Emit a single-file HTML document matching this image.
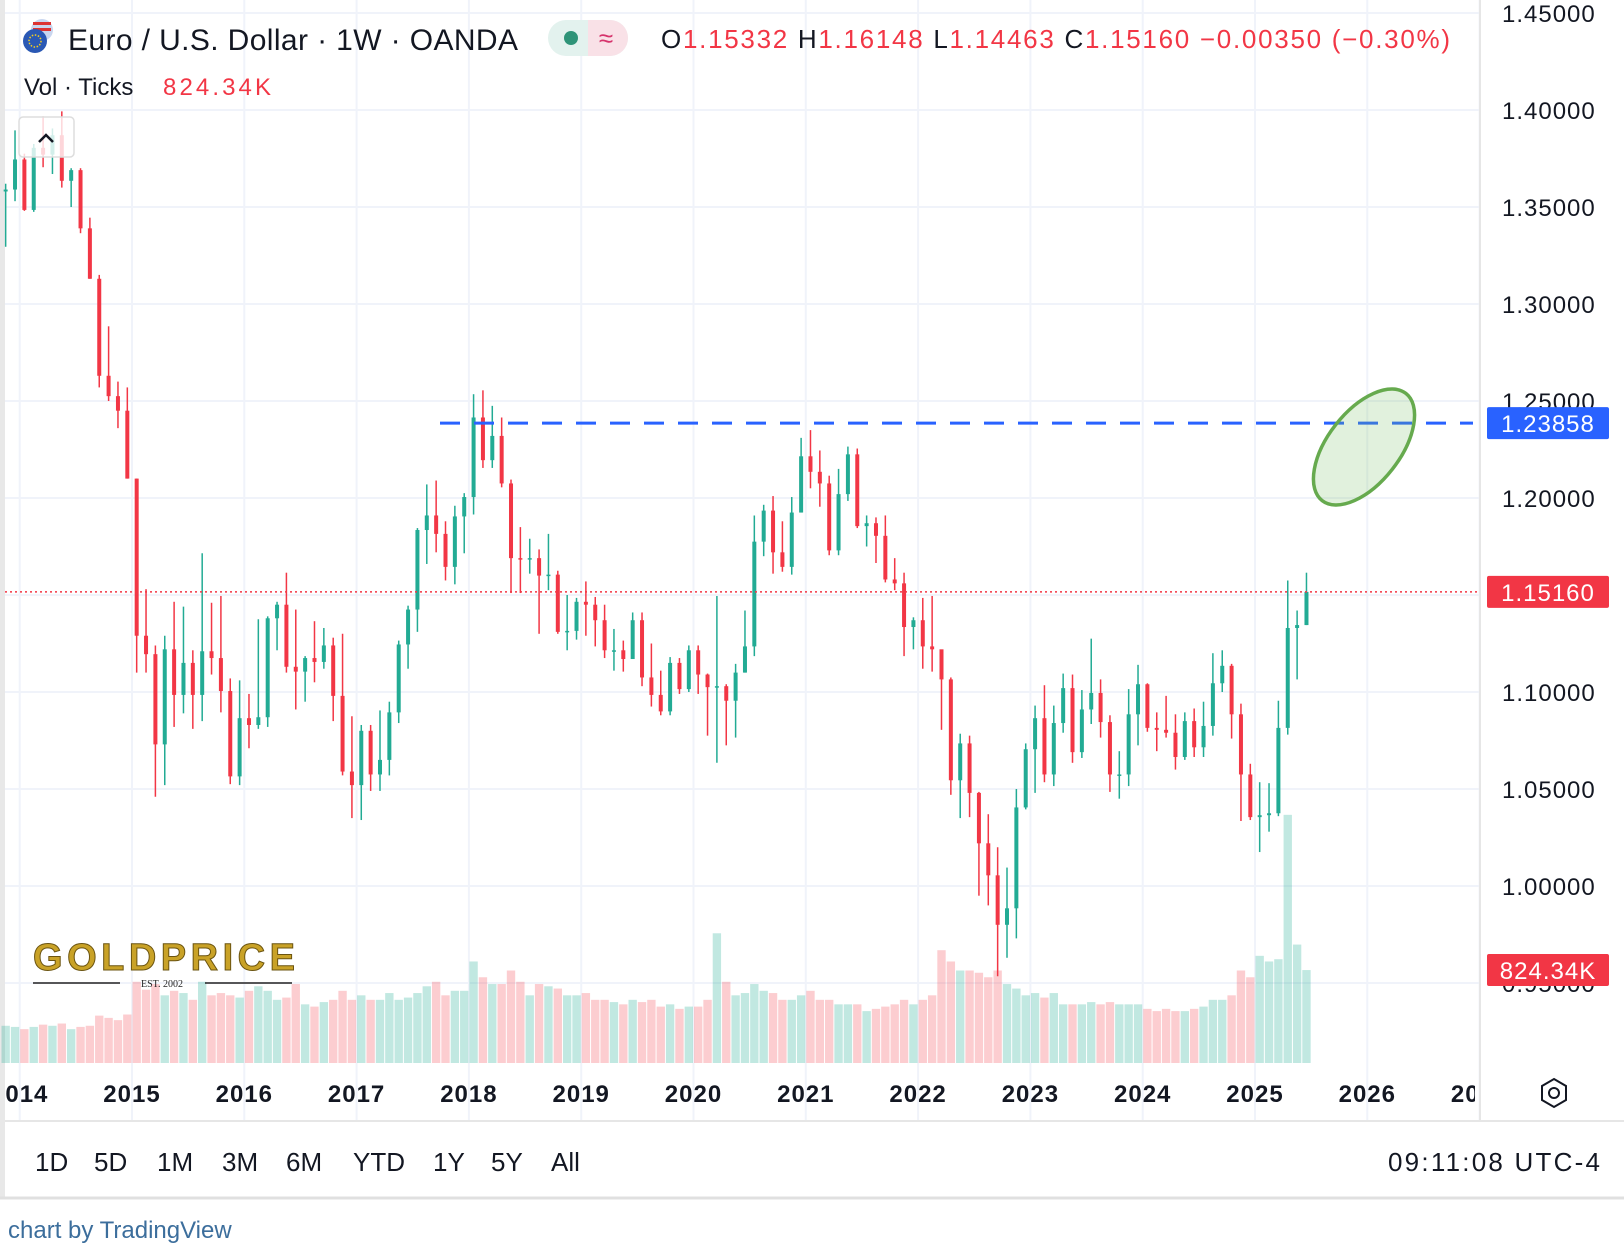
<!DOCTYPE html>
<html><head><meta charset="utf-8"><style>
html,body{margin:0;padding:0;background:#fff;width:1624px;height:1256px;overflow:hidden;font-family:"Liberation Sans",Arial,sans-serif}
</style></head><body>
<svg id="chart" width="1624" height="1256" viewBox="0 0 1624 1256" xmlns="http://www.w3.org/2000/svg" style="font-family:'Liberation Sans',Arial,sans-serif">
<rect x="0" y="0" width="1624" height="1256" fill="#fff"/>
<rect x="0" y="0" width="5" height="1198" fill="#e8e8e8"/>
<g id="grid"></g>
<g id="vol"></g>
<g id="candles"></g>
<line x1="1480" y1="0" x2="1480" y2="1121" stroke="#e6e6e6" stroke-width="2"/>
<line x1="5" y1="1121" x2="1624" y2="1121" stroke="#e6e6e6" stroke-width="2"/>
<line x1="0" y1="1198" x2="1624" y2="1198" stroke="#e0e0e0" stroke-width="3"/>
<g id="yaxis" font-size="24" fill="#131722" letter-spacing="1"></g>
<g id="xaxis" font-size="24" font-weight="bold" fill="#131722" letter-spacing="1"></g>
<line id="resline" stroke="#2962ff" stroke-width="3" stroke-dasharray="20,14"/>
<line id="lastline" stroke="#f23645" stroke-width="1.5" stroke-dasharray="2,3"/>
<ellipse cx="1364" cy="447" rx="68" ry="36" transform="rotate(-52 1364 447)" fill="rgba(120,190,100,0.22)" stroke="#66aa4e" stroke-width="3.5"/>
<g><rect id="reslab" x="1487" width="122" height="32" rx="2" fill="#2962ff"/><text id="restxt" x="1548" font-size="24" fill="#fff" text-anchor="middle" letter-spacing="1">1.23858</text></g>
<g><rect id="lastlab" x="1487" width="122" height="32" rx="2" fill="#f23645"/><text id="lasttxt" x="1548" font-size="24" fill="#fff" text-anchor="middle" letter-spacing="1">1.15160</text></g>
<g><rect x="1487" y="954" width="122" height="32" rx="2" fill="#f23645"/><text x="1548" y="979" font-size="24" fill="#fff" text-anchor="middle" letter-spacing="1">824.34K</text></g>
<g>
<circle cx="42" cy="30" r="11" fill="#c9d6ef"/><rect x="33" y="22" width="18" height="3" fill="#d33"/><rect x="33" y="28" width="18" height="3" fill="#d33"/>
<circle cx="35" cy="41" r="12" fill="#2a58b4"/><circle cx="35" cy="41" r="6" fill="none" stroke="#f5d020" stroke-width="1.5" stroke-dasharray="1.5,1.6"/>
</g>
<text x="68" y="50" font-size="30" fill="#131722" textLength="450">Euro / U.S. Dollar · 1W · OANDA</text>
<g><rect x="548" y="20" width="80" height="36" rx="18" fill="#e3f2ee"/><path d="M588 20 H610 A18 18 0 0 1 610 56 H588 Z" fill="#f9e1e7"/><circle cx="571" cy="38" r="7" fill="#2e9478"/><text x="606" y="47" font-size="26" fill="#d6336c" text-anchor="middle">≈</text></g>
<text x="661" y="48" font-size="26" fill="#f23645" textLength="789"><tspan fill="#131722">O</tspan>1.15332 <tspan fill="#131722">H</tspan>1.16148 <tspan fill="#131722">L</tspan>1.14463 <tspan fill="#131722">C</tspan>1.15160 −0.00350 (−0.30%)</text>
<text x="24" y="95" font-size="24" fill="#131722">Vol · Ticks<tspan fill="#f23645" x="163" textLength="108">824.34K</tspan></text>
<g><rect x="19" y="117" width="55" height="40" rx="4" fill="rgba(255,255,255,0.8)" stroke="#ddd" stroke-width="1.5"/><path d="M39 142 L46 135 L53 142" fill="none" stroke="#131722" stroke-width="2.5"/></g>
<g>
<text x="33" y="970" font-size="38" font-weight="bold" fill="#c9a227" stroke="#6b5410" stroke-width="1" textLength="262" font-family="'Liberation Sans',sans-serif">GOLDPRICE</text>
<line x1="33" y1="983" x2="120" y2="983" stroke="#222" stroke-width="1.5"/><line x1="205" y1="983" x2="292" y2="983" stroke="#222" stroke-width="1.5"/>
<text x="162" y="987" font-size="10" fill="#222" text-anchor="middle" font-family="'Liberation Serif',serif">EST. 2002</text>
</g>
<g><polygon points="1554,1079 1566,1086 1566,1100 1554,1107 1542,1100 1542,1086" fill="none" stroke="#131722" stroke-width="2"/><circle cx="1554" cy="1093" r="5" fill="none" stroke="#131722" stroke-width="2"/></g>
<g font-size="26" fill="#131722">
<text x="35" y="1171">1D</text>
<text x="94" y="1171">5D</text>
<text x="157" y="1171">1M</text>
<text x="222" y="1171">3M</text>
<text x="286" y="1171">6M</text>
<text x="353" y="1171">YTD</text>
<text x="433" y="1171">1Y</text>
<text x="491" y="1171">5Y</text>
<text x="551" y="1171">All</text>
<text x="1600" y="1171" text-anchor="end" textLength="212">09:11:08 UTC-4</text>
</g>
<text x="8" y="1238" font-size="24" fill="#3c6e9c">chart by TradingView</text>
</svg>
<script>
const startYear = 2013, startMonth = 10; // Nov 2013
const firstOpen = 1.3580;
const closes = [1.3590,1.3745,
1.3485,1.3805,1.3770,1.3870,1.3635,1.3690,1.3390,1.3130,1.2630,1.2525,1.2450,1.2100,
1.1290,1.1195,1.0730,1.1220,1.0985,1.1150,1.0985,1.1210,1.1175,1.1005,1.0565,1.0865,
1.0830,1.0870,1.1380,1.1450,1.1130,1.1105,1.1175,1.1155,1.1240,1.0980,1.0590,1.0520,
1.0800,1.0575,1.0650,1.0895,1.1245,1.1425,1.1835,1.1910,1.1815,1.1645,1.1905,1.2005,
1.2415,1.2195,1.2320,1.2075,1.1690,1.1685,1.1690,1.1600,1.1605,1.1310,1.1315,1.1465,
1.1450,1.1370,1.1215,1.1215,1.1170,1.1370,1.1075,1.0985,1.0900,1.1150,1.1015,1.1215,
1.1090,1.1025,1.1030,1.0955,1.1100,1.1235,1.1775,1.1935,1.1720,1.1645,1.1925,1.2215,
1.2135,1.2075,1.1730,1.2020,1.2225,1.1855,1.1870,1.1805,1.1580,1.1560,1.1335,1.1370,
1.1235,1.1220,1.1065,1.0545,1.0735,1.0480,1.0220,1.0055,0.9800,0.9885,1.0405,1.0705,
1.0865,1.0575,1.0840,1.1020,1.0690,1.0910,1.0995,1.0845,1.0575,1.0575,1.0885,1.1040,
1.0815,1.0805,1.0790,1.0665,1.0850,1.0715,1.0825,1.1045,1.1135,1.0885,1.0575,1.0355,
1.0365,1.0375,1.0815,1.1330,1.1345,1.1516];
const highs = [1.3620,1.3895,
1.3775,1.3825,1.3967,1.3905,1.3993,1.3700,1.3700,1.3445,1.3150,1.2885,1.2600,1.2570,
1.2100,1.1530,1.1240,1.1290,1.1465,1.1440,1.1215,1.1715,1.1460,1.1495,1.1070,1.1060,
1.0990,1.1375,1.1390,1.1465,1.1615,1.1425,1.1185,1.1365,1.1330,1.1280,1.1300,1.0875,
1.0830,1.0830,1.0905,1.0950,1.1265,1.1445,1.1845,1.2070,1.2090,1.1880,1.1960,1.2025,
1.2535,1.2555,1.2475,1.2415,1.2095,1.1850,1.1790,1.1735,1.1815,1.1625,1.1500,1.1485,
1.1570,1.1490,1.1450,1.1325,1.1265,1.1410,1.1410,1.1250,1.1110,1.1180,1.1175,1.1240,
1.1240,1.1095,1.1495,1.1040,1.1145,1.1420,1.1910,1.1965,1.2010,1.1880,1.2005,1.2310,
1.2350,1.2245,1.2115,1.2150,1.2265,1.2255,1.1910,1.1900,1.1910,1.1690,1.1615,1.1385,
1.1485,1.1495,1.1185,1.1075,1.0785,1.0775,1.0485,1.0370,1.0200,1.0095,1.0500,1.0735,
1.0930,1.1035,1.0930,1.1095,1.1090,1.1010,1.1275,1.1065,1.0880,1.0695,1.1015,1.1140,
1.1045,1.0895,1.0980,1.0885,1.0895,1.0915,1.0950,1.1200,1.1215,1.1145,1.0940,1.0630,
1.0535,1.0530,1.0955,1.1575,1.1420,1.1615];
const lows = [1.3295,1.3530,
1.3480,1.3475,1.3705,1.3670,1.3600,1.3500,1.3365,1.3130,1.2570,1.2500,1.2360,1.2100,
1.1100,1.1100,1.0460,1.0520,1.0820,1.0890,1.0810,1.0850,1.1090,1.0895,1.0525,1.0520,
1.0710,1.0810,1.0820,1.1215,1.1100,1.0910,1.0950,1.1050,1.1120,1.0850,1.0570,1.0350,
1.0340,1.0490,1.0490,1.0570,1.0840,1.1120,1.1310,1.1660,1.1720,1.1575,1.1555,1.1715,
1.1915,1.2155,1.2155,1.2055,1.1510,1.1510,1.1610,1.1300,1.1525,1.1300,1.1215,1.1270,
1.1290,1.1235,1.1175,1.1110,1.1105,1.1180,1.1030,1.0925,1.0880,1.0880,1.0990,1.1000,
1.0990,1.0775,1.0635,1.0725,1.0765,1.1100,1.1185,1.1700,1.1610,1.1620,1.1605,1.1925,
1.2050,1.1955,1.1705,1.1705,1.1985,1.1845,1.1750,1.1665,1.1565,1.1525,1.1185,1.1220,
1.1120,1.1105,1.0805,1.0470,1.0350,1.0355,0.9950,0.9900,0.9535,0.9630,0.9730,1.0395,
1.0480,1.0535,1.0515,1.0790,1.0635,1.0660,1.0835,1.0765,1.0485,1.0450,1.0515,1.0725,
1.0795,1.0695,1.0765,1.0600,1.0650,1.0665,1.0665,1.0775,1.1000,1.0760,1.0335,1.0340,
1.0175,1.0280,1.0360,1.0780,1.1065,1.1345];
const volumesK = [330,320,
300,320,340,330,350,300,320,330,420,400,380,430,
720,650,700,600,640,620,560,720,600,620,600,580,
640,680,640,560,580,700,520,500,540,560,640,560,
600,560,560,620,560,580,620,680,720,600,640,640,
900,760,700,700,820,720,600,700,680,660,600,600,
620,560,560,540,520,560,540,560,500,520,480,500,
500,560,1150,720,600,620,700,640,620,560,560,600,
640,560,560,520,520,520,460,480,500,520,560,520,
560,600,1000,900,820,820,800,760,820,700,660,600,
620,580,620,520,520,520,540,520,540,520,520,520,
480,460,480,460,460,480,500,560,560,600,820,760,
950,900,920,2200,1050,824];
const priceTicks = [1.45,1.40,1.35,1.30,1.25,1.20,1.15,1.10,1.05,1.00,0.95];
const priceTickLabels = ["1.45000","1.40000","1.35000","1.30000","1.25000","1.20000","1.15000","1.10000","1.05000","1.00000","0.95000"];
const yearTicks = [2014,2015,2016,2017,2018,2019,2020,2021,2022,2023,2024,2025,2026,2027];
const resistancePrice = 1.23858;
const lastPrice = 1.15160;

const NS = "http://www.w3.org/2000/svg";
function yP(p){ return 110 + (1.40 - p) * 1940; }
function xT(t){ return 132 + (t - 2015) * 112.3; }
function yV(v){ return 1063 - v * 0.1128; }
function mk(tag, attrs, parent){ const e=document.createElementNS(NS,tag); for(const k in attrs) e.setAttribute(k,attrs[k]); parent.appendChild(e); return e; }

const grid=document.getElementById('grid'), yaxis=document.getElementById('yaxis'), xaxis=document.getElementById('xaxis');
const vol=document.getElementById('vol'), cg=document.getElementById('candles');

priceTicks.forEach((p,i)=>{
  const l=mk('line',{x1:5,x2:1480,y1:yP(p),y2:yP(p),stroke:'#f0f3fa','stroke-width':2},grid);
  
  
  const t=mk('text',{x:1502,y:yP(p)+9},yaxis);
  t.textContent=priceTickLabels[i];
  
  
});
yearTicks.forEach(yr=>{
  const x=xT(yr);
  if(x<1480){
    const l=mk('line',{x1:x,x2:x,y1:0,y2:1121,stroke:'#f0f3fa','stroke-width':2},grid);
    
    
  }
  const t=mk('text',{x:x,y:1102,'text-anchor':'middle'},xaxis);
  t.textContent=String(yr);
  
  
});
const defs=mk('defs',{},document.getElementById('chart'));
const cp=mk('clipPath',{id:'xclip'},defs); mk('rect',{x:5,y:1060,width:1470,height:60},cp);
xaxis.setAttribute('clip-path','url(#xclip)');
const cp2=mk('clipPath',{id:'yclip'},defs); mk('rect',{x:1482,y:0,width:142,height:1121},cp2);
yaxis.setAttribute('clip-path','url(#yclip)');

const mw=112.3/12;
closes.forEach((c,i)=>{
  const o = i===0 ? firstOpen : closes[i-1];
  const t = startYear + (startMonth + i + 0.5)/12;
  const x = xT(t);
  const up = c>=o;
  const col = up ? '#22ab94' : '#f23645';
  const vb = mk('rect',{x:x-mw/2+0.5,y:yV(volumesK[i]),width:mw-1,height:1063-yV(volumesK[i]),fill:up?'rgba(34,171,148,0.28)':'rgba(242,54,69,0.25)'},vol);
  
  
  const w = mk('line',{x1:x,x2:x,y1:yP(highs[i]),y2:yP(lows[i]),stroke:col,'stroke-width':1.5},cg);
  
  
  const top=yP(Math.max(o,c)), bot=yP(Math.min(o,c));
  const b = mk('rect',{x:x-2,y:top,width:4,height:Math.max(1.5,bot-top),fill:col},cg);
  
  
});
const rl=document.getElementById('resline');
rl.setAttribute('x1',440); rl.setAttribute('x2',1473); rl.setAttribute('y1',yP(resistancePrice)); rl.setAttribute('y2',yP(resistancePrice));
document.getElementById('reslab').setAttribute('y',yP(resistancePrice)-16);
document.getElementById('restxt').setAttribute('y',yP(resistancePrice)+9);
const ll=document.getElementById('lastline');
ll.setAttribute('x1',5); ll.setAttribute('x2',1480); ll.setAttribute('y1',yP(lastPrice)); ll.setAttribute('y2',yP(lastPrice));
document.getElementById('lastlab').setAttribute('y',yP(lastPrice)-16);
document.getElementById('lasttxt').setAttribute('y',yP(lastPrice)+9);
</script>
</body></html>
